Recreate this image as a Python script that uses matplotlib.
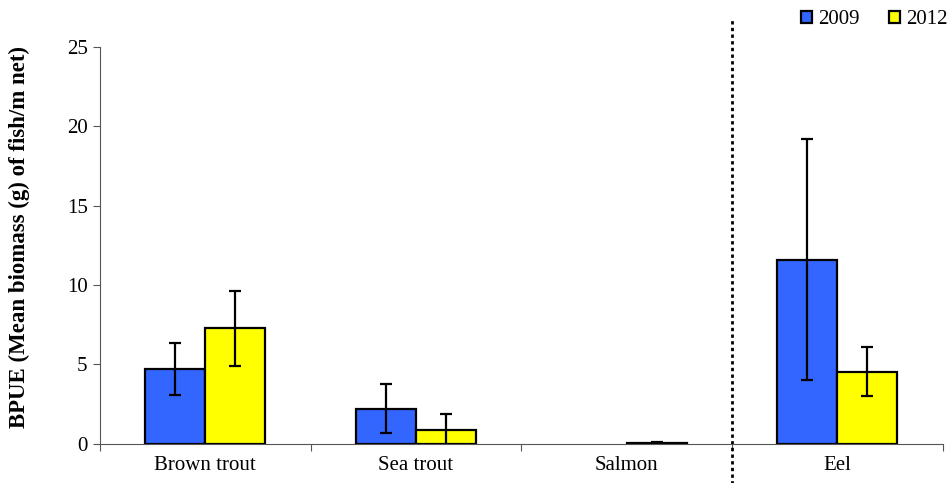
import numpy as np
import matplotlib
matplotlib.use('Agg')
from matplotlib import pyplot as plt
from matplotlib.lines import Line2D

# Mean biomass per unit effort, with error bars
species = ['Brown trout', 'Sea trout', 'Salmon', 'Eel']
bpue_2009 = [4.72, 2.22, 0.0, 11.6]
err_2009 = [1.63, 1.55, 0.0, 7.6]
bpue_2012 = [7.28, 0.88, 0.05, 4.55]
err_2012 = [2.35, 0.98, 0.05, 1.52]

plt.rcParams['font.family'] = ['Liberation Serif', 'DejaVu Serif']

fig = plt.figure(figsize=(9.53, 4.83), dpi=100)
ax = fig.add_axes([0.105, 0.081, 0.884, 0.822])

x = np.arange(len(species)) + 0.5
w = 0.285
err_style = dict(fmt='none', ecolor='black', elinewidth=1.6, capsize=4.5, capthick=1.6)

for xs, vals, errs, col, lab in [(x - w / 2, bpue_2009, err_2009, '#3366ff', '2009'),
                                 (x + w / 2, bpue_2012, err_2012, '#ffff00', '2012')]:
    bars = ax.bar(xs, vals, w, color=col, edgecolor='black', linewidth=1.6, label=lab)
    for patch, xi, v, e in zip(bars.patches, xs, vals, errs):
        if v == 0:
            # empty bar: no outline, no error bar
            patch.set_linewidth(0)
            continue
        ax.errorbar(xi, v, yerr=e, **err_style)

ax.set_xlim(0, 4)
ax.set_ylim(0, 25)
ax.set_yticks([0, 5, 10, 15, 20, 25])

# category boundaries get the tick marks, names sit in between
ax.set_xticks([0, 1, 2, 3, 4])
ax.set_xticklabels([])
ax.set_xticks(x, minor=True)
ax.set_xticklabels(species, minor=True, fontsize=15)
ax.tick_params(axis='x', which='minor', length=0, pad=9)
ax.tick_params(axis='x', which='major', length=5, color='#555555')
ax.tick_params(axis='y', length=5, color='#555555', labelsize=15, pad=4)

for side in ['top', 'right']:
    ax.spines[side].set_visible(False)
ax.spines['left'].set_color('#555555')
ax.spines['bottom'].set_color('#555555')

ax.set_ylabel('BPUE (Mean biomass (g) of fish/m net)', fontsize=16.5, fontweight='bold')
ax.yaxis.set_label_coords(-0.083, 0.52)

# dotted line separating eel from the salmonids
ax.add_line(Line2D([3, 3], [-3, 26.7], color='black', linestyle=(0, (1.2, 1.2)),
                   linewidth=2, clip_on=False))

ax.legend(loc='upper right', bbox_to_anchor=(1.016, 1.113), ncol=2, frameon=False,
          fontsize=15, handlelength=0.5, handleheight=0.5, handletextpad=0.3,
          columnspacing=1.45, borderaxespad=0)

fig.savefig('out.png', dpi=100)
